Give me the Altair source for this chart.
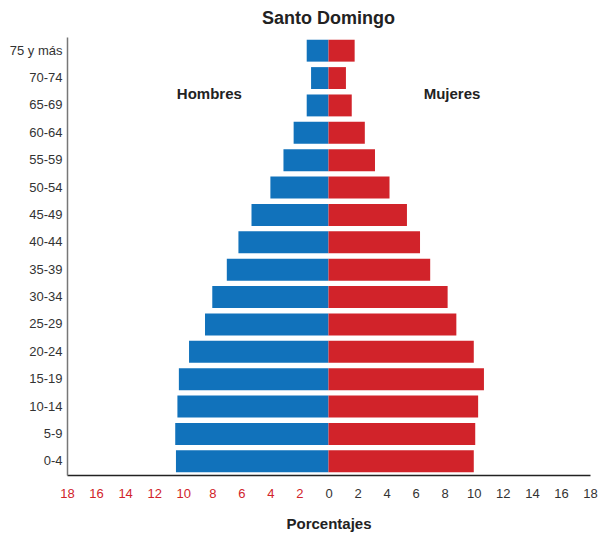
import altair as alt
import pandas as pd

groups = ["75 y más", "70-74", "65-69", "60-64", "55-59", "50-54", "45-49", "40-44",
          "35-39", "30-34", "25-29", "20-24", "15-19", "10-14", "5-9", "0-4"]
hombres = [1.5, 1.2, 1.5, 2.4, 3.1, 4.0, 5.3, 6.2, 7.0, 8.0, 8.5, 9.6, 10.3, 10.4, 10.55, 10.5]
mujeres = [1.8, 1.2, 1.6, 2.5, 3.2, 4.2, 5.4, 6.3, 7.0, 8.2, 8.8, 10.0, 10.7, 10.3, 10.1, 10.0]
ticks = list(range(-18, 19, 2))

BLUE = "#1172bb"
RED = "#d1232a"
FONT = "Liberation Sans, Arial, sans-serif"

rows = []
for g, h, m in zip(groups, hombres, mujeres):
    rows.append({"grupo": g, "sexo": "Hombres", "v": -h, "z": 0})
    rows.append({"grupo": g, "sexo": "Mujeres", "v": m, "z": 0})
df = pd.DataFrame(rows)

labels = pd.DataFrame({"t": ["Hombres", "Mujeres"], "x": [-8.2, 8.5]})

xscale = alt.Scale(domain=[-18, 18], nice=False, zero=False)
xaxis = alt.Axis(values=ticks, labelExpr="abs(datum.value)", ticks=False,
                 grid=False, domainColor="#222", domainWidth=1.5,
                 labelOverlap=False, labelBound=False, labelFlush=False,
                 labelColor={"expr": "datum.value < 0 ? '%s' : '#333'" % RED},
                 labelFontSize=13, labelFont=FONT, labelPadding=12,
                 titleFontSize=15, titleFont=FONT, titleFontWeight="bold",
                 titleColor="#222", titlePadding=16)

bars = alt.Chart(df).mark_bar().encode(
    x=alt.X("v:Q", scale=xscale, title="Porcentajes", axis=xaxis),
    x2="z:Q",
    y=alt.Y("grupo:N", sort=groups, title=None,
            scale=alt.Scale(paddingInner=0.2, paddingOuter=0.1),
            axis=alt.Axis(ticks=False, domainColor="#777", domainWidth=1.5,
                          labelFontSize=13, labelFont=FONT, labelColor="#333",
                          labelPadding=5)),
    color=alt.Color("sexo:N", scale=alt.Scale(domain=["Hombres", "Mujeres"], range=[BLUE, RED]),
                    legend=None),
)

txt = alt.Chart(labels).mark_text(fontSize=15, fontWeight="bold", font=FONT, color="#222").encode(
    x=alt.X("x:Q", scale=xscale, title="Porcentajes", axis=xaxis),
    y=alt.value(57),
    text="t:N",
)

chart = (bars + txt).properties(
    width=523, height=438,
    title=alt.TitleParams("Santo Domingo", fontSize=18, fontWeight="bold", font=FONT,
                          color="#222", anchor="middle", offset=9),
    autosize=alt.AutoSizeParams(type="none"),
    padding={"left": 59, "top": 29, "right": 10, "bottom": 60},
).configure_view(stroke=None)

chart.save("out.html", embed_options={"renderer": "svg", "actions": False})
